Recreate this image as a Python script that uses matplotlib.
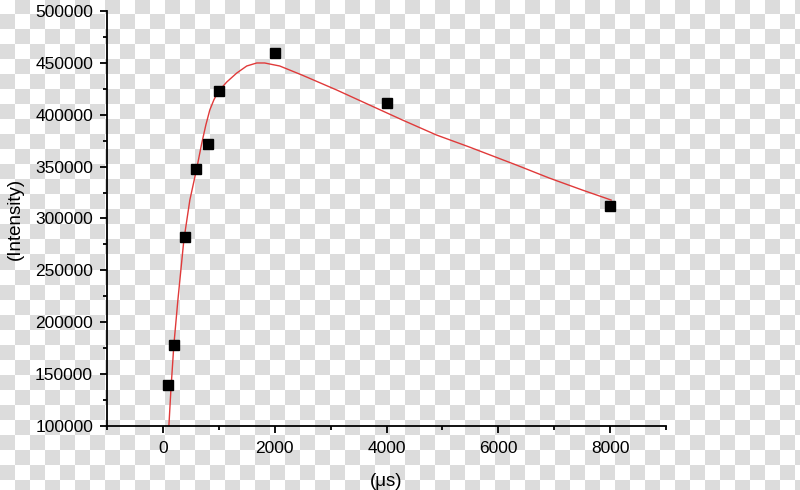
import numpy as np
import matplotlib

matplotlib.use("Agg")
import matplotlib.pyplot as plt
from matplotlib.colors import ListedColormap
from matplotlib.ticker import MultipleLocator

# measured points
delay_us = [100, 200, 400, 600, 800, 1000, 2000, 4000, 8000]
intensity = [139500, 178000, 282200, 347700, 371800, 422900, 459500, 411300, 312000]

# fitted curve
fit_x = [107, 143, 196, 268, 375, 482, 607, 696, 768, 839, 911, 982, 1143, 1321,
         1500, 1679, 1821, 1911, 2089, 2268, 2500, 3107, 3696, 4286, 4893, 5482,
         5714, 6321, 6911, 7500, 8018]
fit_y = [100000, 134700, 178100, 221400, 279300, 317800, 348700, 372800, 390100,
         404600, 414200, 421900, 431600, 440200, 447000, 449900, 449900, 448900,
         447000, 443100, 438000, 423900, 409400, 394900, 380500, 368900, 364100,
         351600, 339000, 327500, 317800]

plt.rcParams["font.family"] = ["Liberation Sans", "DejaVu Sans"]

W, H, CELL = 800, 490, 15
fig = plt.figure(figsize=(W / 100, H / 100), dpi=100)

# transparency checkerboard behind the plot
bg = fig.add_axes([0, 0, 1, 1])
ny, nx = int(np.ceil(H / CELL)), int(np.ceil(W / CELL))
board = np.indices((ny, nx)).sum(axis=0) % 2
bg.imshow(board, cmap=ListedColormap(["#ffffff", "#dcdcdc"]), interpolation="nearest",
          extent=[0, nx * CELL, ny * CELL, 0], aspect="auto")
bg.set_xlim(0, W)
bg.set_ylim(H, 0)
bg.axis("off")

ax = fig.add_axes([107 / W, 1 - 426 / H, (666 - 107) / W, (426 - 11) / H])
ax.patch.set_alpha(0)
ax.plot(fit_x, fit_y, color="#e03a3a", linewidth=1.0)
ax.plot(delay_us, intensity, linestyle="none", marker="s", markersize=7.5, color="black")

ax.set_xlim(-1000, 9000)
ax.set_ylim(100000, 500000)
ax.xaxis.set_major_locator(MultipleLocator(2000))
ax.xaxis.set_minor_locator(MultipleLocator(1000))
ax.yaxis.set_major_locator(MultipleLocator(50000))
ax.yaxis.set_minor_locator(MultipleLocator(25000))
for side in ("top", "right"):
    ax.spines[side].set_visible(False)
for side in ("left", "bottom"):
    ax.spines[side].set_linewidth(1.3)
ax.tick_params(which="major", direction="out", length=5, width=1.3, labelsize=12.5)
ax.tick_params(axis="x", which="major", pad=6)
ax.tick_params(axis="y", which="major", pad=5)
ax.tick_params(which="minor", direction="out", length=3, width=1.3)

ax.set_xlabel("(μs)", fontsize=13.5, labelpad=12)
ax.set_ylabel("(Intensity)", fontsize=13.5, labelpad=8)

fig.savefig("out.png", dpi=100)
